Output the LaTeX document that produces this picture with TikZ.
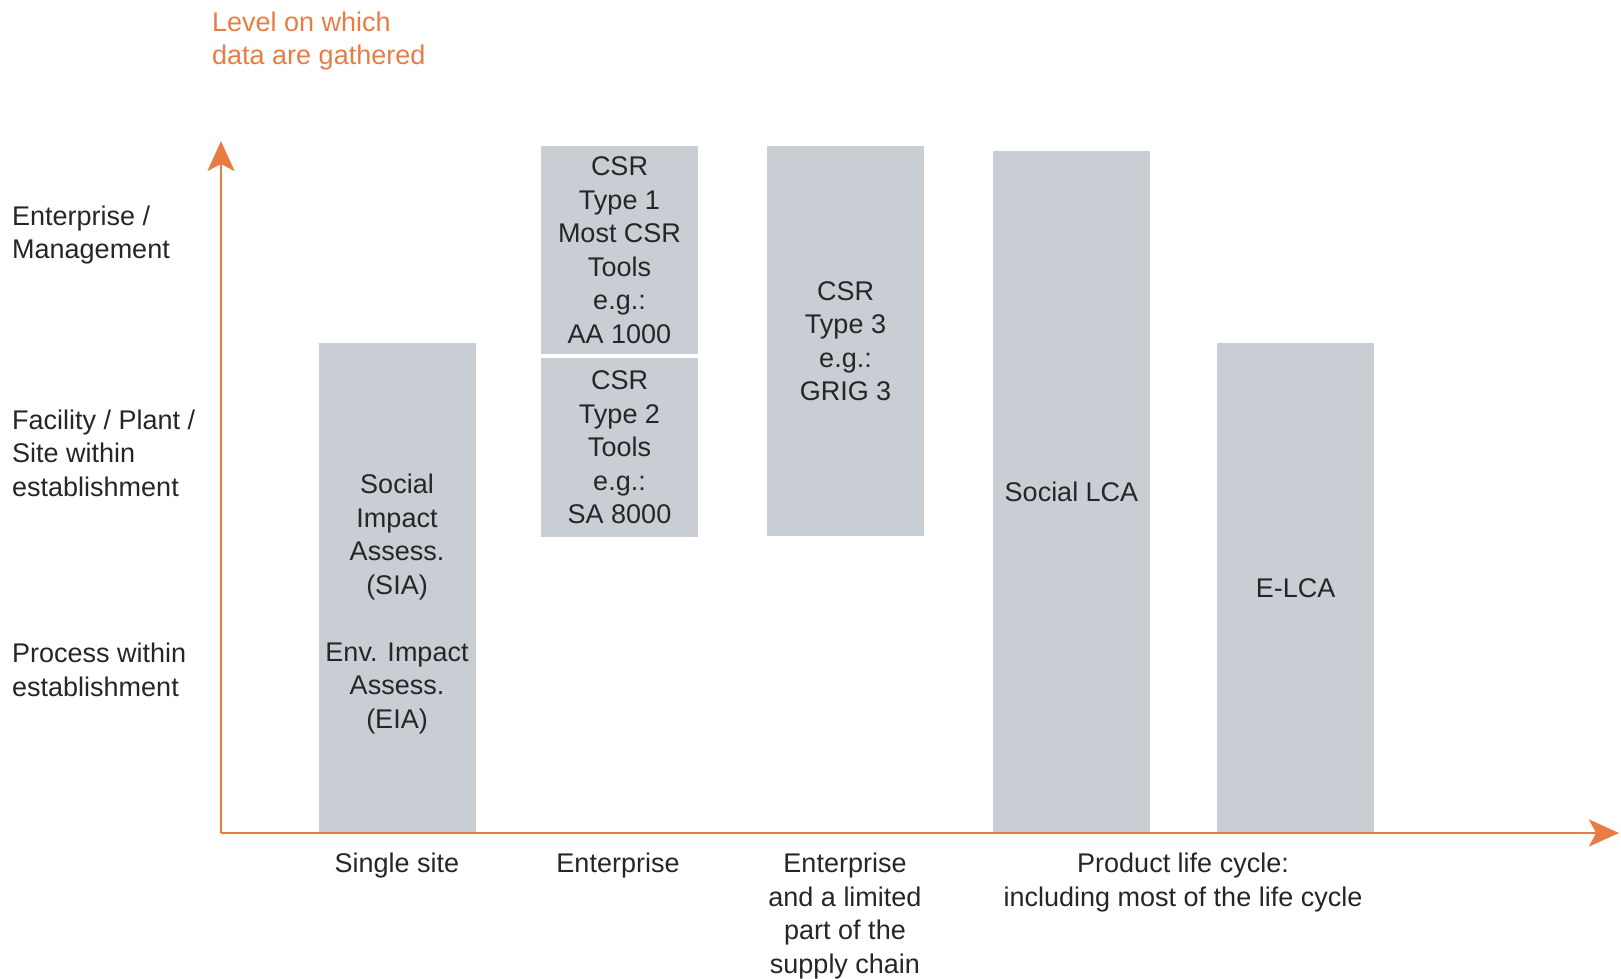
\documentclass[tikz,border=0pt]{standalone}
\usepackage{fontspec}
\setmainfont{Liberation Sans}
\usepackage{tikz}
\usetikzlibrary{arrows.meta,positioning}

\begin{document}
\begin{tikzpicture}[x=1pt,y=-1pt]
        \definecolor{axis orange}{RGB}{232,125,68}
        \definecolor{bar grey}{RGB}{200,206,212}
        \colorlet{label text}{black!85}
        \def\bw{157}

        \tikzset{
          every node/.style={font=\fontsize{27}{33.5}\selectfont, text=label text, inner sep=0pt},
          bar/.style={fill=bar grey, minimum width=\bw pt, align=center},
          level label/.style={anchor=west, align=left},
          scope label/.style={anchor=north, align=center},
          axis line/.style={draw=axis orange, line width=2.6pt,
            -{Stealth[length=30pt,width=27pt,inset=7pt]}}}

        \useasboundingbox (0,0) rectangle (1621,979);

        % boxes
        \node[bar, minimum height=490pt] (sia) at (397,588) {};
        \node (sia text) at (397,604) [align=center]
          {Social\\Impact\\Assess.\\(SIA)\\[33.5pt]Env. Impact\\Assess.\\(EIA)};
        \node[bar, minimum height=208pt] (csr one) at (619.5,250)
          {CSR\\Type 1\\Most CSR\\Tools\\e.g.:\\AA 1000};
        \node[bar, minimum height=179pt] (csr two) at (619.5,447.5)
          {CSR\\Type 2\\Tools\\e.g.:\\SA 8000};
        \node[bar, minimum height=390pt] (csr three) at (845.5,341)
          {CSR\\Type 3\\e.g.:\\GRIG 3};
        \node[bar, minimum height=682pt] (slca) at (1071.5,492) {Social LCA};
        \node[bar, minimum height=490pt] (elca) at (1295.5,588) {E-LCA};

        % axes
        \coordinate (origin) at (221,833);
        \coordinate (y tip) at (221,141);
        \coordinate (x tip) at (1619,833);
        \draw[axis line] (origin) -- (y tip);
        \draw[axis line] (origin) -- (x tip);

        \node[level label, text=axis orange] (y title) at (212,41)
          {Level on which\\data are gathered};

        % levels
        \node[level label] (lvl enterprise) at (12,235) {Enterprise /\\Management};
        \node[level label] (lvl facility) at (12,453) {Facility / Plant /\\Site within\\establishment};
        \node[level label] (lvl process) at (12,670) {Process within\\establishment};

        % scopes
        \node[scope label] (sc site) at (397,853) {Single site};
        \node[scope label] (sc enterprise) at (618,853) {Enterprise};
        \node[scope label] (sc chain) at (845,853) {Enterprise\\and a limited\\part of the\\supply chain};
        \node[scope label] (sc product) at (1183,853) {Product life cycle:\\including most of the life cycle};
\end{tikzpicture}
\end{document}
